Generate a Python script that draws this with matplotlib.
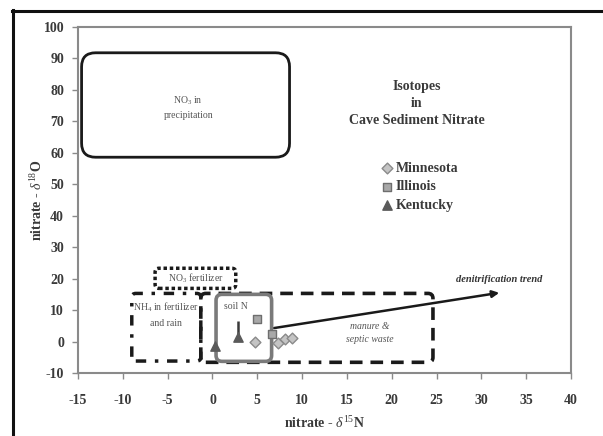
import matplotlib
matplotlib.use("Agg")
import matplotlib.pyplot as plt
from matplotlib.patches import FancyBboxPatch
from matplotlib.lines import Line2D

plt.rcParams['font.family'] = ['Liberation Serif', 'DejaVu Serif']
plt.rcParams['mathtext.fontset'] = 'custom'
plt.rcParams['mathtext.rm'] = 'Liberation Serif'
plt.rcParams['mathtext.it'] = 'Liberation Serif:italic'
plt.rcParams['mathtext.bf'] = 'Liberation Serif:bold'
plt.rcParams['axes.unicode_minus'] = False

# ---- data ----
mn_x = [4.8, 7.3, 8.1, 8.9]
mn_y = [0.0, -0.5, 0.7, 1.0]
il_x = [5.0, 6.6]
il_y = [7.3, 2.3]
ky_x = [0.3, 2.8]
ky_y = [-1.5, 1.5]
ky_err_up = [0.0, 5.0]

series_names = ["Minnesota", "Illinois", "Kentucky"]
x_ticks = list(range(-15, 41, 5))
y_ticks = list(range(-10, 101, 10))

# source regions (x0, y0, x1, y1)
precip_box = (-14.6, 58.6, 8.6, 91.8)
fert_box = (-6.4, 16.9, 2.6, 23.3)
nh4_box = (-9.0, -6.2, -1.3, 15.3)
manure_box = (-1.3, -6.6, 24.6, 15.3)
soil_box = (0.4, -6.3, 6.6, 15.0)
trend_start = (6.9, 4.3)
trend_end = (32.0, 15.5)

fig = plt.figure(figsize=(6.03, 4.36), dpi=100)
ax = fig.add_axes([78/603, 1 - 373/436, (571-78)/603, (373-27)/436])
ax.set_xlim(-15, 40)
ax.set_ylim(-10, 100)

# aspect factor: y-units per pixel / x-units per pixel
asp = (110/346) / (55/493)

def rbox(b, r_px, **kw):
    x0, y0, x1, y1 = b
    r = r_px * 55/493
    p = FancyBboxPatch((x0, y0), x1 - x0, y1 - y0,
                       boxstyle=f"round,pad=0,rounding_size={r}",
                       mutation_aspect=asp, fill=False, **kw)
    ax.add_patch(p)
    return p

rbox(precip_box, 14, lw=2.0, ec='#1a1a1a', ls='-')
rbox(fert_box, 4, lw=2.5, ec='#1a1a1a', ls=(0, (1, 0.8)))
rbox(nh4_box, 4, lw=2.5, ec='#1a1a1a', ls=(0, (3, 2.5, 1, 2.5)))
rbox(manure_box, 5, lw=2.6, ec='#1a1a1a', ls=(0, (3.5, 2.2)))
rbox(soil_box, 6, lw=2.6, ec='#7a7a7a', ls='-')

# trend arrow
ax.annotate("", xy=trend_end, xytext=trend_start,
            arrowprops=dict(arrowstyle='-|>', color='#1a1a1a', lw=1.8,
                            mutation_scale=10, shrinkA=0, shrinkB=0))

# data points
ax.scatter(mn_x, mn_y, marker='D', s=30, c='#c4c4c4', edgecolors='#8a8a8a',
           linewidths=1, zorder=5, label=series_names[0])
ax.scatter(il_x, il_y, marker='s', s=40, c='#a8a8a8', edgecolors='#6e6e6e',
           linewidths=1, zorder=5, label=series_names[1])
ax.errorbar(ky_x, ky_y, yerr=[[0, 0], ky_err_up], fmt='none', ecolor='#3a3a3a',
            elinewidth=1.8, capsize=0, zorder=4)
ax.scatter(ky_x, ky_y, marker='^', s=45, c='#5a5a5a', edgecolors='#5a5a5a',
           linewidths=1, zorder=5, label=series_names[2])

# annotation texts
tc = '#555555'
ax.text(-2.7, 74.5, "NO$_3$ in\nprecipitation", ha='center', va='center',
        fontsize=7, color=tc, linespacing=1.6)
ax.text(-1.9, 20.1, "NO$_3$ fertilizer", ha='center', va='center',
        fontsize=7, color=tc)
ax.text(-5.2, 8.8, "NH$_4$ in fertilizer\nand rain", ha='center', va='center',
        fontsize=7, color=tc, linespacing=1.7)
ax.text(2.6, 11.0, "soil N", ha='center', va='center', fontsize=7, color=tc)
ax.text(17.5, 2.8, "manure &\nseptic waste", ha='center', va='center',
        fontsize=7, color=tc, style='italic', linespacing=1.6)
ax.text(32.0, 19.6, "denitrification trend", ha='center', va='center',
        fontsize=7.5, color='#333333', style='italic', fontweight='bold')

ax.text(22.8, 75.8, "Isotopes\nin\nCave Sediment Nitrate", ha='center', va='center',
        fontsize=10, fontweight='bold', color='#3a3a3a', linespacing=1.4)

leg = ax.legend(loc='upper left', bbox_to_anchor=(0.605, 0.627), frameon=False,
                handlelength=0.7, handletextpad=0.3, labelspacing=0.4,
                borderaxespad=0, prop={'family': 'Liberation Serif', 'weight': 'bold', 'size': 10})
for t in leg.get_texts():
    t.set_color('#3a3a3a')

# axes style
for s in ax.spines.values():
    s.set_color('#8a8a8a')
    s.set_linewidth(1.5)
ax.set_xticks(x_ticks)
ax.set_yticks(y_ticks)
ax.tick_params(direction='out', length=4, width=1, color='#8a8a8a',
               labelsize=10, labelcolor='#3a3a3a')
ax.tick_params(axis='x', pad=11)
ax.tick_params(axis='y', pad=6)
for lab in ax.get_xticklabels() + ax.get_yticklabels():
    lab.set_fontweight('bold')

ax.set_xlabel(r"nitrate - $\delta^{15}$N", fontsize=10, fontweight='bold',
              color='#3a3a3a', labelpad=6)
ax.set_ylabel(r"nitrate - $\delta^{18}$O", fontsize=10, fontweight='bold',
              color='#3a3a3a', labelpad=-1)

# outer frame (left and top)
fig.add_artist(Line2D([13/603, 13/603], [0, 1 - 10/436], transform=fig.transFigure,
                      color='#111111', lw=2.2))
fig.add_artist(Line2D([12/603, 1], [1 - 11/436, 1 - 11/436], transform=fig.transFigure,
                      color='#111111', lw=2.2))

fig.savefig("out.png", dpi=100)
